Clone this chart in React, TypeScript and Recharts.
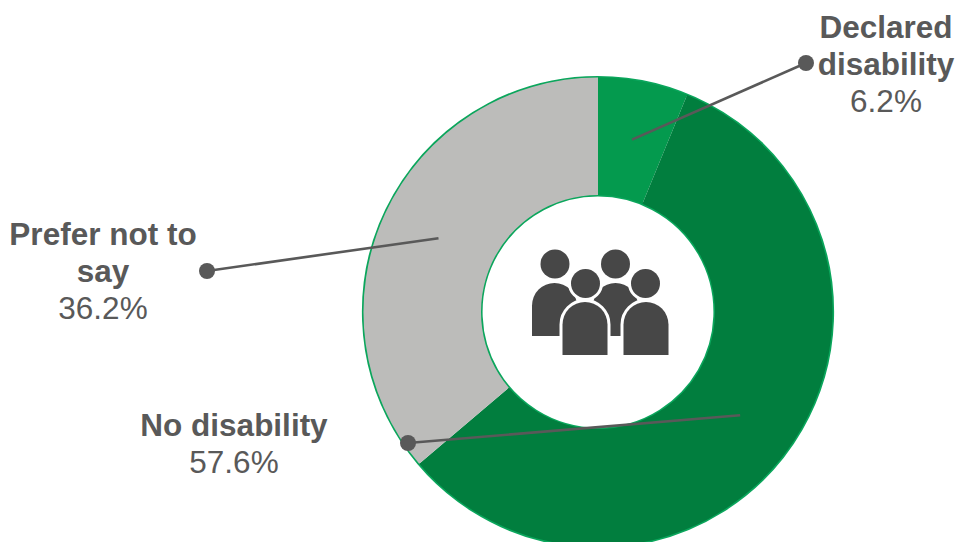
import { Cell, Pie, PieChart } from "recharts";

const categories = ["Declared disability", "No disability", "Prefer not to say"];
const shares = [6.2, 57.6, 36.2];
const sliceColors = ["#049A4E", "#017E3E", "#BCBCBA"];

// how each category name wraps in its callout
const calloutLines = [["Declared", "disability"], ["No disability"], ["Prefer not to", "say"]];

const rows = categories.map((name, i) => ({ name, value: shares[i] }));
const ringRow = [{ name: "ring", value: 100 }];

const WIDTH = 958;
const HEIGHT = 542;
const CX = 598;
const CY = 312;
const INNER = 117;
const OUTER = 234.5;

const RADIAN = Math.PI / 180;
const GREY = "#595959";
const ICON = "#474747";
const FONT = "'Liberation Sans', Arial, sans-serif";

// callout layout per slice: leader end dot, text centre x, first baseline
const callouts = [
  { dotX: 806, dotY: 63, textX: 886, textY: 38 },
  { dotX: 408, dotY: 443, textX: 234, textY: 436 },
  { dotX: 207, dotY: 271, textX: 103, textY: 245 },
];

function renderCallout(props: any) {
  const { cx, cy, midAngle, innerRadius, outerRadius, index, value } = props;
  const c = callouts[index];
  const r = (innerRadius + outerRadius) / 2;
  const x0 = cx + r * Math.cos(-midAngle * RADIAN);
  const y0 = cy + r * Math.sin(-midAngle * RADIAN);
  const lines = calloutLines[index];
  const lineH = 37;
  return (
    <g key={index}>
      <line x1={x0} y1={y0} x2={c.dotX} y2={c.dotY} stroke={GREY} strokeWidth={2.6} />
      <circle cx={c.dotX} cy={c.dotY} r={8} fill={GREY} />
      <text textAnchor="middle" fontFamily={FONT} fontSize={31.5} fill={GREY}>
        {lines.map((t, i) => (
          <tspan key={t} x={c.textX} y={c.textY + i * lineH} fontWeight="bold">
            {t}
          </tspan>
        ))}
        <tspan x={c.textX} y={c.textY + lines.length * lineH}>
          {value}%
        </tspan>
      </text>
    </g>
  );
}

// arch-topped body used by all four figures
function bodyPath(left: number, top: number, bottom: number) {
  const rad = 22.5;
  return `M${left} ${bottom}V${top + rad}A${rad} ${rad} 0 0 1 ${left + 2 * rad} ${top + rad}V${bottom}Z`;
}

function PeopleIcon() {
  // front figures get a white halo painted behind the fill
  const halo = { stroke: "#fff", strokeWidth: 6, paintOrder: "stroke" as const };
  return (
    <g fill={ICON}>
      <path d={bodyPath(532, 283, 336)} />
      <path d={bodyPath(593, 283, 336)} />
      <circle cx={555} cy={264} r={14.5} />
      <circle cx={615.5} cy={264} r={14.5} />
      <circle cx={585.5} cy={283.5} r={14.5} {...halo} />
      <circle cx={645.5} cy={283.5} r={14.5} {...halo} />
      <path d={bodyPath(562.5, 302, 355)} {...halo} />
      <path d={bodyPath(623.5, 302, 355)} {...halo} />
    </g>
  );
}

export default function App() {
  return (
    <div style={{ position: "absolute", left: 0, top: 0, width: WIDTH, height: HEIGHT, overflow: "hidden", background: "#fff" }}>
      <PieChart width={WIDTH} height={HEIGHT} margin={{ top: 0, right: 0, bottom: 0, left: 0 }}>
        {/* thin green edge on both sides of the ring */}
        {[INNER, OUTER].map((rad) => (
          <Pie
            key={rad}
            data={ringRow}
            dataKey="value"
            cx={CX}
            cy={CY}
            innerRadius={rad}
            outerRadius={rad}
            startAngle={90}
            endAngle={-270}
            fill="none"
            stroke="#0BA65C"
            strokeWidth={3.2}
            isAnimationActive={false}
            label={false}
            labelLine={false}
          />
        ))}
        <Pie
          data={rows}
          dataKey="value"
          nameKey="name"
          cx={CX}
          cy={CY}
          innerRadius={INNER}
          outerRadius={OUTER}
          startAngle={90}
          endAngle={-270}
          paddingAngle={0}
          stroke="none"
          isAnimationActive={false}
          label={renderCallout}
          labelLine={false}
        >
          {rows.map((row, i) => (
            <Cell key={row.name} fill={sliceColors[i]} />
          ))}
        </Pie>
        <PeopleIcon />
      </PieChart>
    </div>
  );
}
